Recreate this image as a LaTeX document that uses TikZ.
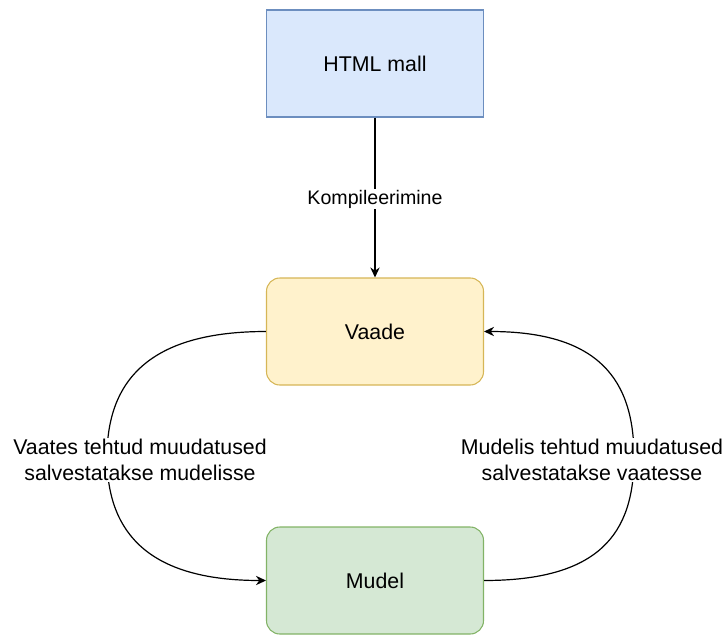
\documentclass[tikz,border=0pt]{standalone}
\usepackage{fontspec}
\setmainfont{Liberation Sans}
\usetikzlibrary{arrows.meta}

\definecolor{mallfill}{HTML}{DAE8FC}
\definecolor{malldraw}{HTML}{6C8EBF}
\definecolor{vaadefill}{HTML}{FFF2CC}
\definecolor{vaadedraw}{HTML}{D6B656}
\definecolor{mudelfill}{HTML}{D5E8D4}
\definecolor{mudeldraw}{HTML}{82B366}

\begin{document}
\begin{tikzpicture}[x=0.75pt,y=-0.75pt,
	box/.style={draw, line width=0.8pt, minimum width=162.75pt, minimum height=80.25pt,
		font=\fontsize{16}{19.5}\selectfont},
	conn/.style={line width=0.9pt, -{Stealth[length=7.5pt,width=7pt]}},
	lbl/.style={fill=white, inner sep=1pt, align=center, font=\fontsize{16}{19.5}\selectfont}]
	\useasboundingbox (0,0) rectangle (728,635);
		\node[box, fill=mallfill, draw=malldraw] (mall) at (375,63.5) {HTML mall};
		\node[box, rounded corners=10pt, fill=vaadefill, draw=vaadedraw] (vaade) at (375,331.5) {Vaade};
		\node[box, rounded corners=10pt, fill=mudelfill, draw=mudeldraw] (mudel) at (375,580.5) {Mudel};
	% servad
		\draw[conn] (mall) -- (vaade);
		\draw[conn] (vaade.west) .. controls (150,331.5) and (107,380) .. (107,457)
			.. controls (107,534) and (150,580.5) .. (mudel.west);
		\draw[conn] (mudel.east) .. controls (599,580.5) and (634,534) .. (634,457)
			.. controls (634,380) and (599,331.5) .. (vaade.east);
	% sildid
		\node[lbl, font=\fontsize{14.7}{17.6}\selectfont] (kompil) at (375,199) {Kompileerimine};
		\node[lbl] (vasak) at (140,460) {Vaates tehtud muudatused\\salvestatakse mudelisse};
		\node[lbl] (parem) at (592,460) {Mudelis tehtud muudatused\\salvestatakse vaatesse};
\end{tikzpicture}
\end{document}
